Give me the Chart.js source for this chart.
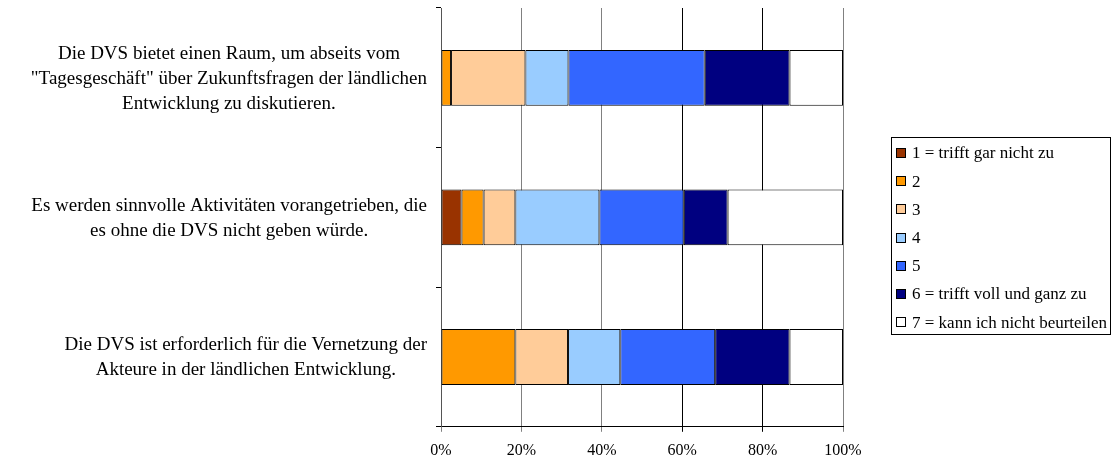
<!DOCTYPE html>
<html>
<head>
<meta charset="utf-8">
<script src="https://cdn.jsdelivr.net/npm/chart.js@4.4.1/dist/chart.umd.min.js"></script>
<style>
  html, body { margin: 0; padding: 0; background: #fff; }
  #wrap { width: 1111px; height: 460px; }
</style>
</head>
<body>
<div id="wrap"><canvas id="chart" width="1111" height="460"></canvas></div>
<script>
// statements (y axis categories), one array of lines each
const categories = [
  ['Die DVS bietet einen Raum, um abseits vom', '"Tagesgeschäft" über Zukunftsfragen der ländlichen', 'Entwicklung zu diskutieren.'],
  ['Es werden sinnvolle Aktivitäten vorangetrieben, die', 'es ohne die DVS nicht geben würde.'],
  ['Die DVS ist erforderlich für die Vernetzung der', 'Akteure in der ländlichen Entwicklung.']
];

const seriesLabels = ['1 = trifft gar nicht zu', '2', '3', '4', '5', '6 = trifft voll und ganz zu', '7 = kann ich nicht beurteilen'];
const seriesColors = ['#993300', '#FF9900', '#FFCC99', '#99CCFF', '#3366FF', '#000080', '#FFFFFF'];

// percent of answers, per statement
const answers1 = [0, 5.1, 0];
const answers2 = [2.5, 5.5, 18.5];
const answers3 = [18.5, 7.9, 13.1];
const answers4 = [10.7, 20.9, 13.0];
const answers5 = [33.9, 21.0, 23.6];
const answers6 = [21.1, 10.9, 18.5];
const answers7 = [13.3, 28.7, 13.3];
const seriesValues = [answers1, answers2, answers3, answers4, answers5, answers6, answers7];

const xTicks = [0, 20, 40, 60, 80, 100];

const FONT = '"Liberation Serif", "Times New Roman", serif';

// y labels: lines centered within their block, block right aligned to the axis
const yLabelPlugin = {
  id: 'yLabels',
  afterDraw(chart) {
    const ctx = chart.ctx;
    const yScale = chart.scales.y;
    const right = chart.chartArea.left - 14;
    ctx.save();
    ctx.font = '19px ' + FONT;
    ctx.fillStyle = '#000';
    ctx.textAlign = 'center';
    ctx.textBaseline = 'middle';
    categories.forEach((lines, i) => {
      const maxW = Math.max(...lines.map(l => ctx.measureText(l).width));
      const cx = right - maxW / 2;
      const cy = yScale.getPixelForValue(i) + 1;
      lines.forEach((line, k) => {
        ctx.fillText(line, cx, cy + (k - (lines.length - 1) / 2) * 25);
      });
    });
    ctx.restore();
  }
};

// framed legend to the right of the plot
const legendPlugin = {
  id: 'boxLegend',
  afterDraw(chart) {
    const ctx = chart.ctx;
    const left = chart.chartArea.right + 48;
    const top = 137;
    const rowH = 28.2;
    ctx.save();
    ctx.strokeStyle = '#000';
    ctx.lineWidth = 1;
    ctx.strokeRect(left + 0.5, top + 0.5, 219, 197);
    ctx.font = '17px ' + FONT;
    ctx.textBaseline = 'middle';
    ctx.textAlign = 'left';
    chart.data.datasets.forEach((ds, i) => {
      const cy = top + 16 + i * rowH;
      ctx.fillStyle = ds.backgroundColor;
      ctx.fillRect(left + 5, Math.round(cy - 5), 10, 10);
      ctx.strokeRect(left + 5.5, Math.round(cy - 5) + 0.5, 9, 9);
      ctx.fillStyle = '#000';
      ctx.fillText(ds.label, left + 21, cy + 1);
    });
    ctx.restore();
  }
};

new Chart(document.getElementById('chart'), {
  type: 'bar',
  data: {
    labels: categories.map(c => c.join(' ')),
    datasets: seriesLabels.map((label, i) => ({
      label: label,
      data: seriesValues[i],
      backgroundColor: seriesColors[i],
      borderColor: '#000',
      borderWidth: 1,
      borderSkipped: false,
      barPercentage: 0.4,
      categoryPercentage: 1
    }))
  },
  options: {
    indexAxis: 'y',
    responsive: false,
    animation: false,
    layout: { padding: { left: 436, right: 268, top: 8, bottom: -10 } },
    plugins: {
      legend: { display: false },
      tooltip: { enabled: false }
    },
    scales: {
      x: {
        stacked: true,
        min: 0,
        max: 100,
        afterBuildTicks: axis => { axis.ticks = xTicks.map(v => ({ value: v })); },
        border: { display: true, color: '#000' },
        grid: {
          color: c => (c.tick && (c.tick.value === 60 || c.tick.value === 80)) ? '#000' : '#808080',
          tickLength: 5,
          drawTicks: true
        },
        ticks: {
          padding: 9.5,
          color: '#000',
          font: { family: FONT, size: 16 },
          callback: v => v + '%'
        }
      },
      y: {
        stacked: true,
        offset: true,
        border: { display: true, color: '#555' },
        grid: { offset: true, drawOnChartArea: false, tickLength: 5, color: '#000' },
        ticks: { display: false }
      }
    }
  },
  plugins: [yLabelPlugin, legendPlugin]
});
</script>
</body>
</html>
